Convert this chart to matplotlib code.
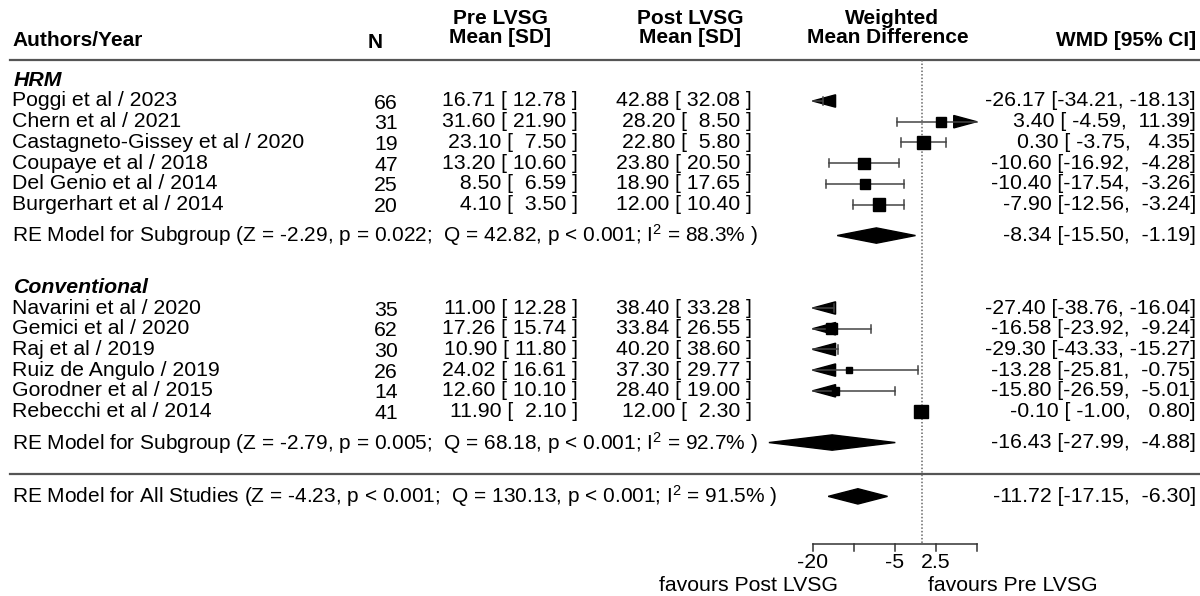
import matplotlib
matplotlib.use('Agg')
import matplotlib.pyplot as plt
from matplotlib.patches import Polygon, Rectangle

plt.rcParams['font.family'] = ['Liberation Sans', 'DejaVu Sans']
plt.rcParams['mathtext.fontset'] = 'custom'
plt.rcParams['mathtext.rm'] = 'Liberation Sans'
plt.rcParams['mathtext.it'] = 'Liberation Sans:italic'
plt.rcParams['mathtext.bf'] = 'Liberation Sans:bold'

# ---- data ----
groups = ['HRM', 'Conventional']
studies = ['Poggi et al / 2023', 'Chern et al / 2021', 'Castagneto-Gissey et al / 2020',
           'Coupaye et al / 2018', 'Del Genio et al / 2014', 'Burgerhart et al / 2014',
           'Navarini et al / 2020', 'Gemici et al / 2020', 'Raj et al / 2019',
           'Ruiz de Angulo / 2019', 'Gorodner et al / 2015', 'Rebecchi et al / 2014']
n = [66, 31, 19, 47, 25, 20, 35, 62, 30, 26, 14, 41]
pre_mean = [16.71, 31.60, 23.10, 13.20, 8.50, 4.10, 11.00, 17.26, 10.90, 24.02, 12.60, 11.90]
pre_sd = [12.78, 21.90, 7.50, 10.60, 6.59, 3.50, 12.28, 15.74, 11.80, 16.61, 10.10, 2.10]
post_mean = [42.88, 28.20, 22.80, 23.80, 18.90, 12.00, 38.40, 33.84, 40.20, 37.30, 28.40, 12.00]
post_sd = [32.08, 8.50, 5.80, 20.50, 17.65, 10.40, 33.28, 26.55, 38.60, 29.77, 19.00, 2.30]
wmd = [-26.17, 3.40, 0.30, -10.60, -10.40, -7.90, -27.40, -16.58, -29.30, -13.28, -15.80, -0.10]
ci_lo = [-34.21, -4.59, -3.75, -16.92, -17.54, -12.56, -38.76, -23.92, -43.33, -25.81, -26.59, -1.00]
ci_hi = [-18.13, 11.39, 4.35, -4.28, -3.26, -3.24, -16.04, -9.24, -15.27, -0.75, -5.01, 0.80]
weights = [8.4, 8.5, 9.7, 9.0, 8.7, 9.5, 7.2, 8.7, 6.2, 6.8, 7.4, 10.2]

sub_est = [-8.34, -16.43]
sub_lo = [-15.50, -27.99]
sub_hi = [-1.19, -4.88]
sub_z = ['-2.29', '-2.79']
sub_p = ['= 0.022', '= 0.005']
sub_q = ['42.82', '68.18']
sub_i2 = ['88.3', '92.7']

all_est, all_lo, all_hi = -11.72, -17.15, -6.30
all_z, all_p, all_q, all_i2 = '-4.23', '< 0.001', '130.13', '91.5'

ticks = [-20, -12.5, -5, 2.5, 10]
tick_labels = ['-20', '', '-5', '2.5', '']

# ---- layout ----
X0_PX = 922.0      # pixel of WMD = 0
PX_UNIT = 5.47     # pixels per WMD unit
ROW_PX = 20.7
ROW0_PX = 101.0
FS = 15.3
FSH = 15

def px(p):
    return (p - X0_PX) / PX_UNIT

study_rows = [0, 1, 2, 3, 4, 5, 10, 11, 12, 13, 14, 15]
group_rows = [-1, 9]
sub_rows = [6.5, 16.5]
all_row = 19.1
axis_row = 21.4
alim = (ticks[0], ticks[-1])

fig = plt.figure(figsize=(12, 5.96), dpi=100)
ax = fig.add_axes([0, 0, 1, 1])
ax.set_xlim(px(0), px(1200))
ax.set_ylim((596 - ROW0_PX) / ROW_PX, -ROW0_PX / ROW_PX)
ax.axis('off')

# headers
ax.text(px(12), -2.9, 'Authors/Year', fontsize=FSH, fontweight='bold', va='center', ha='left')
ax.text(px(375), -2.85, 'N', fontsize=FSH, fontweight='bold', va='center', ha='center')
ax.text(px(500), -4.0, 'Pre LVSG', fontsize=FSH, fontweight='bold', va='center', ha='center')
ax.text(px(500), -3.05, 'Mean [SD]', fontsize=FSH, fontweight='bold', va='center', ha='center')
ax.text(px(690), -4.0, 'Post LVSG', fontsize=FSH, fontweight='bold', va='center', ha='center')
ax.text(px(690), -3.05, 'Mean [SD]', fontsize=FSH, fontweight='bold', va='center', ha='center')
ax.text(px(892), -4.0, 'Weighted', fontsize=FSH, fontweight='bold', va='center', ha='center')
ax.text(px(888), -3.05, 'Mean Difference', fontsize=FSH, fontweight='bold', va='center', ha='center')
ax.text(px(1196), -2.9, 'WMD [95% CI]', fontsize=FSH, fontweight='bold', va='center', ha='right')

line_col = '#555555'
ax.plot([px(10), px(1200)], [-2, -2], color=line_col, lw=1.6)
ax.plot([px(10), px(1200)], [18, 18], color=line_col, lw=1.6)
ax.plot([0, 0], [-2, axis_row], color='#666666', lw=1.1, ls=(0, (1, 1.3)))

for g, r in zip(groups, group_rows):
    ax.text(px(14), r, g, fontsize=FS, fontweight='bold', fontstyle='italic', va='center')

wmin, wmax = min(weights), max(weights)
arrow_len = 4.2
arrow_h = 0.3
cap_h = 0.2

for i, r in enumerate(study_rows):
    ax.text(px(12), r, studies[i], fontsize=FS, va='center')
    ax.text(px(386), r + 0.1, str(n[i]), fontsize=FS, va='center', ha='center')
    ax.text(px(578), r, '%5.2f [%6.2f ]' % (pre_mean[i], pre_sd[i]), fontsize=FS, va='center', ha='right')
    ax.text(px(752), r, '%5.2f [%6.2f ]' % (post_mean[i], post_sd[i]), fontsize=FS, va='center', ha='right')
    ax.text(px(1196), r, '%.2f [%6.2f, %6.2f]' % (wmd[i], ci_lo[i], ci_hi[i]),
            fontsize=FS, va='center', ha='right')

    lo = max(ci_lo[i], alim[0])
    hi = min(ci_hi[i], alim[1])
    ax.plot([lo, hi], [r, r], color='#444444', lw=1.1)
    if ci_lo[i] < alim[0]:
        ax.add_patch(Polygon([(alim[0], r), (alim[0] + arrow_len, r - arrow_h),
                              (alim[0] + arrow_len, r + arrow_h)], closed=True, color='black'))
    else:
        ax.plot([lo, lo], [r - cap_h, r + cap_h], color='#444444', lw=1.1)
    if ci_hi[i] > alim[1]:
        ax.add_patch(Polygon([(alim[1], r), (alim[1] - arrow_len, r - arrow_h),
                              (alim[1] - arrow_len, r + arrow_h)], closed=True, color='black'))
    else:
        ax.plot([hi, hi], [r - cap_h, r + cap_h], color='#444444', lw=1.1)

    if alim[0] <= wmd[i] <= alim[1]:
        size = (0.5 + (weights[i] - wmin) / (wmax - wmin)) * 9.3
        w = size / PX_UNIT
        h = size / ROW_PX
        ax.add_patch(Rectangle((wmd[i] - w / 2, r - h / 2), w, h, color='black', zorder=3))

def diamond(est, lo, hi, r):
    ax.add_patch(Polygon([(lo, r), (est, r - 0.37), (hi, r), (est, r + 0.37)],
                         closed=True, color='black'))

for j, r in enumerate(sub_rows):
    label = 'RE Model for Subgroup (Z = %s, p %s;  Q = %s, p < 0.001; I$^2$ = %s%% )' % (
        sub_z[j], sub_p[j], sub_q[j], sub_i2[j])
    ax.text(px(12), r, label, fontsize=15, va='center')
    ax.text(px(1196), r, '%.2f [%6.2f, %6.2f]' % (sub_est[j], sub_lo[j], sub_hi[j]),
            fontsize=FS, va='center', ha='right')
    diamond(sub_est[j], sub_lo[j], sub_hi[j], r)

label = 'RE Model for All Studies (Z = %s, p %s;  Q = %s, p < 0.001; I$^2$ = %s%% )' % (
    all_z, all_p, all_q, all_i2)
ax.text(px(12), all_row, label, fontsize=15, va='center')
ax.text(px(1196), all_row, '%.2f [%6.2f, %6.2f]' % (all_est, all_lo, all_hi),
        fontsize=FS, va='center', ha='right')
diamond(all_est, all_lo, all_hi, all_row)

# x axis of the forest panel
ax.plot([ticks[0], ticks[-1]], [axis_row, axis_row], color='#333333', lw=1.1)
for t, lab in zip(ticks, tick_labels):
    ax.plot([t, t], [axis_row, axis_row + 0.35], color='#333333', lw=1.1)
    if lab:
        ax.text(t, axis_row + 0.9, lab, fontsize=FS, ha='center', va='center')
ax.text(px(838), axis_row + 2.0, 'favours Post LVSG', fontsize=FS, ha='right', va='center')
ax.text(px(928), axis_row + 2.0, 'favours Pre LVSG', fontsize=FS, ha='left', va='center')

fig.savefig('out.png', dpi=100, facecolor='white')
